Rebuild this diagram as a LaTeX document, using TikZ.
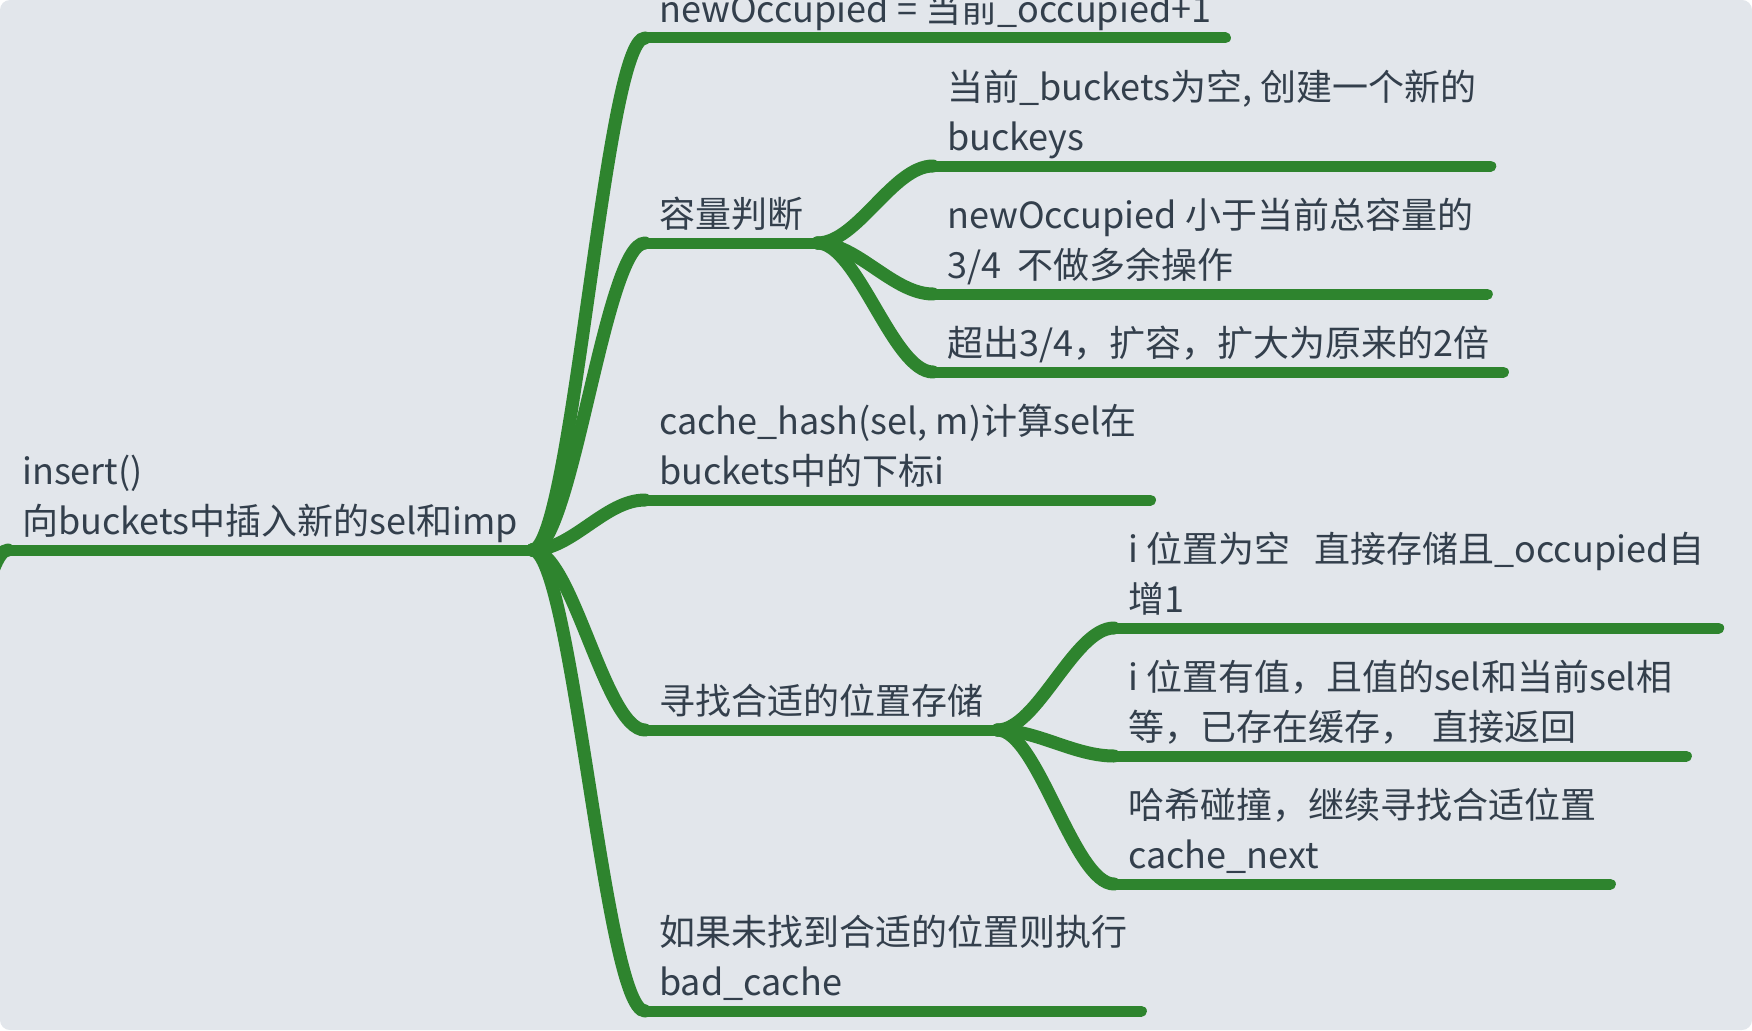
\documentclass[tikz,border=0pt]{standalone}
\usepackage{fontspec}
\setmainfont{Noto Sans CJK SC}
\usepackage{xcolor}
\usepackage{tikz}
\usetikzlibrary{positioning}
\definecolor{paper}{HTML}{E2E6EB}
\definecolor{grn}{HTML}{2E842E}
\definecolor{ink}{HTML}{333F4C}
\tikzset{
  topic/.style={anchor=south west, align=left, text=ink, inner xsep=14pt, inner ysep=0pt,
    font=\fontsize{36}{50}\selectfont, execute at end node=\strut},
  under/.style={draw=grn, line width=11pt, line cap=round},
  link/.style={draw=grn, line width=13pt, line cap=round},
}

\begin{document}
\begin{tikzpicture}[x=1pt, y=-1pt]
  \fill[white] (0,0) rectangle (1752,1030);
  \fill[paper, rounded corners=10pt] (0,0) rectangle (1752,1030);
  \useasboundingbox (0,0) rectangle (1752,1030);
  % topics
  \node[topic] (root) at (8,550) {insert()\\向buckets中插入新的sel和imp};
  \node[topic] (c1) at (645,38) {newOccupied = 当前\_occupied+1};
  \node[topic] (c2) at (645,243) {容量判断};
  \node[topic] (g1) at (933,166) {当前\_buckets为空, 创建一个新的\\buckeys};
  \node[topic] (g2) at (933,294) {newOccupied 小于当前总容量的\\3/4\ \ 不做多余操作};
  \node[topic] (g3) at (933,372) {超出3/4，扩容，扩大为原来的2倍};
  \node[topic] (c3) at (645,500) {cache\_hash(sel, m)计算sel在\\buckets中的下标i};
  \node[topic] (c4) at (645,730) {寻找合适的位置存储};
  \node[topic] (h1) at (1114,628) {i 位置为空\ \ \ 直接存储且\_occupied自\\增1};
  \node[topic] (h2) at (1114,756) {i 位置有值，且值的sel和当前sel相\\等，已存在缓存，\ \ 直接返回};
  \node[topic] (h3) at (1114,884) {哈希碰撞，继续寻找合适位置\\cache\_next};
  \node[topic] (c5) at (645,1011) {如果未找到合适的位置则执行\\bad\_cache};
  \coordinate (up) at (-106,1010);
  % branches
  \draw[link] (up) .. controls +(40,0) and +(-40,0) .. (root.south west);
  \foreach \p/\c in {root/c1,root/c2,root/c3,root/c4,root/c5,c2/g1,c2/g2,c2/g3,c4/h1,c4/h2,c4/h3}
    \draw[link] (\p.south east) .. controls +(40,0) and +(-40,0) .. (\c.south west);
  \foreach \n in {root,c1,c2,g1,g2,g3,c3,c4,h1,h2,h3,c5}
    \draw[under] (\n.south west) -- (\n.south east);
\end{tikzpicture}
\end{document}
